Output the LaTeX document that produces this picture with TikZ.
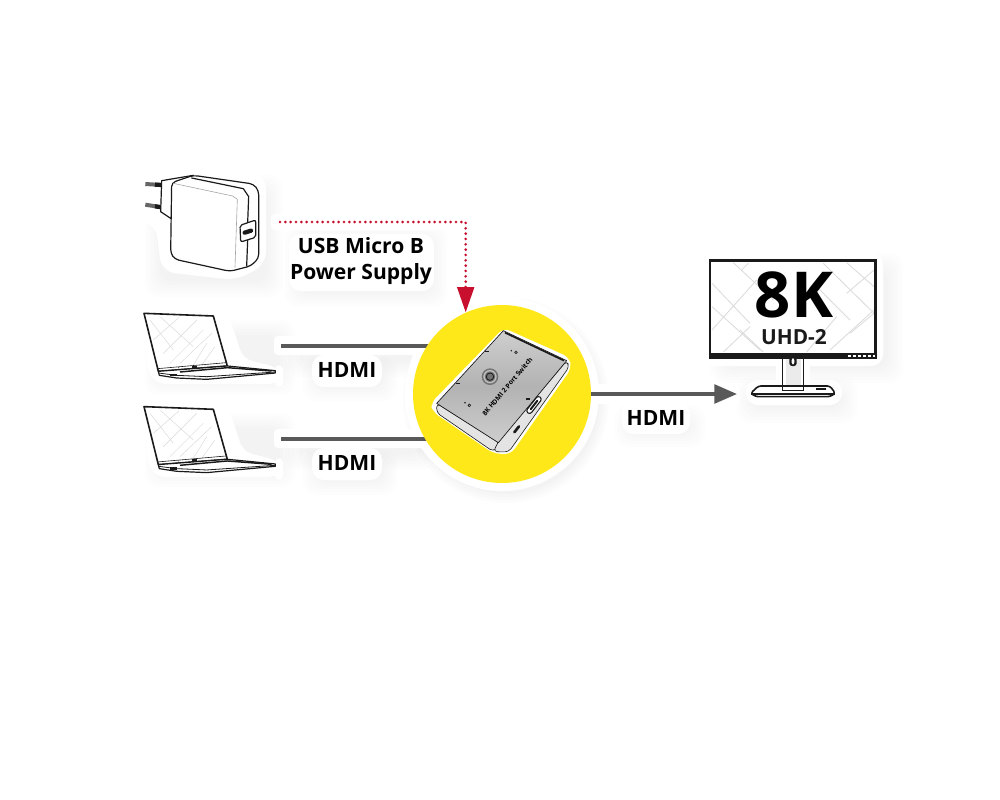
\documentclass[tikz,border=0pt]{standalone}
\usepackage{fontspec}
\setmainfont{Open Sans}
\usetikzlibrary{arrows.meta,calc}
\pgfdeclarelayer{shade}
\pgfdeclarelayer{edges}
\pgfsetlayers{shade,edges,main}
\definecolor{wire}{HTML}{595959}
\definecolor{feed}{HTML}{C8102E}
\definecolor{hubyellow}{HTML}{FFE81A}
\definecolor{ink}{HTML}{1A1A1A}
\definecolor{motif}{HTML}{DADADA}
\definecolor{casing}{HTML}{C2C2C2}
\tikzset{
  label text/.style={font=\bfseries\fontsize{15.8pt}{20pt}\selectfont,text=black,align=center,inner sep=0pt},
  bound/.style={inner sep=0pt,outer sep=0pt},
  halo/.style={fill=white,draw=white,line width=6pt,line join=round},
  outline/.style={draw=ink,line width=.9pt,line join=round,line cap=round},
  thin outline/.style={draw=ink,line width=.45pt,line join=round,line cap=round},
  pattern line/.style={draw=motif,line width=.35pt},
  cable/.style={draw=wire,line width=2.7pt},
  laptopicon/.pic={
    % scale: three units per pixel
    \begin{scope}[x=.25pt,y=-.25pt]
      \begin{scope}
        \clip (52,50) -- (245,56) -- (285,188) -- (90,205) -- cycle;
        \foreach \a/\b/\c/\d in {60/60/130/150, 90/50/190/140, 150/50/70/120, 200/60/100/160, 245/100/150/190, 230/130/190/195, 120/190/220/90, 255/140/215/195}
          \draw[pattern line] (\a,\b) -- (\c,\d);
      \end{scope}
      \draw[outline,fill=none,line width=1.2pt] (42,40) -- (250,48) -- (292,198) -- (85,214) -- cycle;
      \draw[thin outline] (82,206) -- (288,188);
      \fill[ink] (187,198) rectangle (200,204);
      \fill[ink] (146,203) circle (1.5);
      \path[outline,fill=white] (85,214) -- (292,198) -- (436,212) -- (436,219) -- (230,238) -- (140,234) -- (88,226) -- cycle;
      \draw[ink,line width=1.1pt] (150,216) -- (292,203) -- (425,213);
      \draw[ink,line width=.6pt] (85,219) -- (140,226) -- (230,230) -- (436,216);
      \fill[ink] (120,222) rectangle (140,229);
    \end{scope}
  }
}
\newcommand{\softblob}[4]{%
  \foreach \r in {0,3,6,9,12,15}
    \fill[black,opacity=.007,rounded corners=10pt] (#1-\r,#2-\r) rectangle (#3+\r,#4+\r);}
\begin{document}
\begin{tikzpicture}[x=.75pt,y=-.75pt]
\useasboundingbox (0,0) rectangle (1000,800);

% soft cast shades and white cut-out borders
\begin{pgfonlayer}{shade}
  \softblob{160}{190}{268}{282}
  \softblob{160}{335}{280}{380}
  \softblob{160}{428}{280}{472}
  \softblob{300}{240}{432}{292}
  \softblob{318}{372}{382}{386}
  \softblob{318}{465}{382}{480}
  \softblob{630}{420}{690}{432}
  \softblob{300}{355}{420}{362}
  \softblob{300}{447}{420}{455}
  \softblob{725}{268}{888}{368}
  \softblob{752}{392}{842}{408}
  \foreach \r in {94,97,100,103}
    \fill[black,opacity=.012] (506,400) circle (\r*.75pt);
  \fill[white] (502,394) circle (97*.75pt);
  \path[halo,rounded corners=8pt] (139,176) -- (200,172) -- (262,178) -- (262,262) -- (235,276) -- (165,268) -- (160,225) -- (139,215) -- cycle;
  \path[halo,rounded corners=8pt] (142,312) -- (224,314) -- (240,362) -- (279,372) -- (279,380) -- (155,380) -- cycle;
  \path[halo,rounded corners=8pt] (142,405) -- (224,407) -- (240,455) -- (279,465) -- (279,473) -- (155,473) -- cycle;
  \path[halo,rounded corners=6pt] (293,238) rectangle (430,287);
  \path[halo,rounded corners=6pt] (316,359) rectangle (378,383);
  \path[halo,rounded corners=6pt] (316,452) rectangle (378,476);
  \path[halo,rounded corners=6pt] (626,407) rectangle (686,430);
  \path[halo,rounded corners=6pt] (706,257) rectangle (879,362);
  \path[halo,rounded corners=6pt] (750,384) rectangle (838,401);
  \path[halo] (780,358) rectangle (806,386);
  \path[halo] (278,340) rectangle (420,351);
  \path[halo] (278,433) rectangle (420,444);
  \path[halo] (596,388) rectangle (735,400);
  \path[halo] (275,218) rectangle (470,226);
  \path[halo] (462,222) rectangle (470,290);
\end{pgfonlayer}

% bounding nodes of the devices, used as connector ends
\node[bound,minimum width=103.5pt,minimum height=75pt] (charger) at (211,222) {};
\node[bound,minimum width=103.5pt,minimum height=50pt] (laptopA) at (212,346) {};
\node[bound,minimum width=103.5pt,minimum height=50pt] (laptopB) at (212,439) {};
\node[bound,minimum width=105pt,minimum height=103pt] (monitor) at (807,328) {};
\node[circle,fill=hubyellow,inner sep=0pt,minimum size=133.5pt] (hub) at (502,394) {};

% connectors
\begin{pgfonlayer}{edges}
  \draw[cable] (laptopA.east) -- (laptopA.east -| hub.center);
  \draw[cable] (laptopB.east) -- (laptopB.east -| hub.center);
  \draw[cable,-{Triangle[length=17pt,width=14pt]}] (hub.east) -- (hub.east -| monitor.west);
  \draw[feed,line width=2.2pt,line cap=round,dash pattern=on 0pt off 4pt,
        -{Triangle[length=19pt,width=12.5pt]}] (charger.east) -| (hub.114);
\end{pgfonlayer}

% labels
\node[label text] (lblUsb) at (361,261) {USB Micro B\\[-1pt]Power Supply};
\node[label text] (lblA) at (347,370) {HDMI};
\node[label text] (lblB) at (347,463) {HDMI};
\node[label text] (lblOut) at (656,418) {HDMI};

% power adapter
\begin{scope}[shift={(120,160)},x=.25pt,y=-.25pt]
  \foreach \ya/\yb in {72/75,134/142}{
    \draw[black!60,line width=3pt] (76,\ya) -- (125,\yb);
    \draw[ink,line width=3.2pt] (105,{\ya+.6*(\yb-\ya)}) -- (125,\yb);
  }
  \path[outline,fill=white] (125,62) -- (220,46) -- (152,175) -- (122,155) -- cycle;
  \path[outline,fill=white,rounded corners=3pt] (155,68) -- (220,46) -- (400,72) -- (416,92) -- (416,295) -- (392,318) -- (330,334) -- (165,298) -- (152,280) -- cycle;
  \draw[thin outline,draw=black!35] (160,70) -- (338,108) -- (352,118) -- (345,322);
  \draw[outline] (215,54) -- (370,86) -- (386,110) -- (383,188);
  \draw[outline] (383,240) -- (380,318);
  \draw[outline,fill=white,rounded corners=1.5pt] (360,196) -- (407,180) -- (407,232) -- (362,246) -- cycle;
  \draw[ink,line width=3.2pt,line cap=round] (374,218) -- (393,212);
\end{scope}

% notebooks
\path (130,300) pic {laptopicon};
\path (130,393.3) pic {laptopicon};

% switch box
\begin{scope}[shift={(410,300)},x=.25pt,y=-.25pt]
  \fill[white,rounded corners=5pt] (281,84) -- (478,172) -- (484,205) -- (302,463) -- (250,460) -- (68,335) -- (62,310) -- cycle;
  \path[thin outline,fill=casing!45!white,rounded corners=3pt] (80,310) -- (80,338) -- (250,455) -- (270,430) -- cycle;
  \path[thin outline,fill=casing!45!white,rounded corners=3pt] (470,182) -- (478,200) -- (296,456) -- (250,455) -- (265,425) -- cycle;
  \begin{scope}
    \clip (280,92) -- (470,182) -- (265,428) -- (80,310) -- cycle;
    \shade[top color=casing!80!white,bottom color=casing!80!white,middle color=casing!92!black] (60,92) rectangle (490,428);
  \end{scope}
  \draw[outline,line width=.5pt] (280,92) -- (470,182) -- (265,428) -- (80,310) -- cycle;
  \draw[ink,line width=1.2pt] (285,98) -- (462,182);
  \fill[black!55] (240,230) circle (25);
  \draw[black!25,line width=1pt] (240,230) circle (18);
  \draw[ink,line width=.6pt] (240,230) circle (11);
  \draw[ink,line width=.5pt] (318,157) circle (4);
  \fill[ink] (304,152) circle (2.5);
  \draw[ink,line width=.5pt] (178,316) circle (4);
  \fill[ink] (165,308) circle (2.5);
  \fill[ink] (224,153) rectangle (236,157);
  \fill[ink] (139,248) rectangle (151,252);
  \fill[ink] (349,295) rectangle (361,299);
  \node[rotate=50,font=\bfseries\fontsize{5pt}{6pt}\selectfont,text=black,inner sep=0pt] (switchName) at (292,260) {8K HDMI 2 Port Switch};
  \draw[ink,line width=.8pt,fill=white,rotate around={52:(372,315)},rounded corners=2pt] (342,307) rectangle (402,323);
  \fill[ink,rotate around={52:(372,315)},rounded corners=1pt] (352,312) rectangle (392,318);
  \fill[ink,rotate around={52:(320,388)},rounded corners=1pt] (305,384) rectangle (335,392);
\end{scope}

% display
\begin{scope}[shift={(690,250)},x=.25pt,y=-.25pt]
  \path[outline,fill=white,line width=1pt] (278,325) -- (278,408) -- (340,408) -- (340,325) -- cycle;
  \fill[black!8] (288,325) rectangle (332,408);
  \path[outline,fill=white,rounded corners=2pt,line width=1.2pt] (205,408) -- (420,408) -- (436,430) -- (420,440) -- (198,440) -- (182,430) -- cycle;
  \draw[ink,line width=1.6pt] (184,431) -- (434,431);
  \fill[ink] (378,414) rectangle (408,420);
  \draw[ink,line width=.6pt] (278,408) -- (278,420) -- (340,420) -- (340,408);
  \begin{scope}
    \clip (62,34) rectangle (554,308);
    \foreach \a/\b/\c/\d in {66/100/180/220, 66/170/210/300, 130/38/250/150, 200/90/66/240, 470/38/552/110, 400/40/552/190, 552/180/420/300, 440/200/350/306, 480/250/552/190, 155/60/175/40, 150/240/220/306, 380/110/480/210, 470/130/552/60, 100/306/180/230}
      \draw[pattern line,line width=.6pt] (\a,\b) -- (\c,\d);
  \end{scope}
  \draw[ink,line width=2pt] (60,32) rectangle (556,323);
  \fill[ink] (58,310) rectangle (558,325);
  \foreach \x in {475,490,505,520,535,548}
    \fill[white] (\x,316) rectangle (\x+8,320);
  \path[fill=ink,rounded corners=2pt] (298,312) -- (298,348) -- (320,348) -- (320,312) -- cycle;
  \fill[white,rounded corners=1.5pt] (305,325) rectangle (313,343);
\end{scope}
\node[font=\bfseries\fontsize{47.5pt}{48pt}\selectfont,inner sep=0pt,text=black] (res) at (794,295) {8K};
\node[font=\bfseries\fontsize{15.6pt}{18pt}\selectfont,inner sep=0pt,text=ink] (uhd) at (794,337) {UHD-2};
\end{tikzpicture}
\end{document}
